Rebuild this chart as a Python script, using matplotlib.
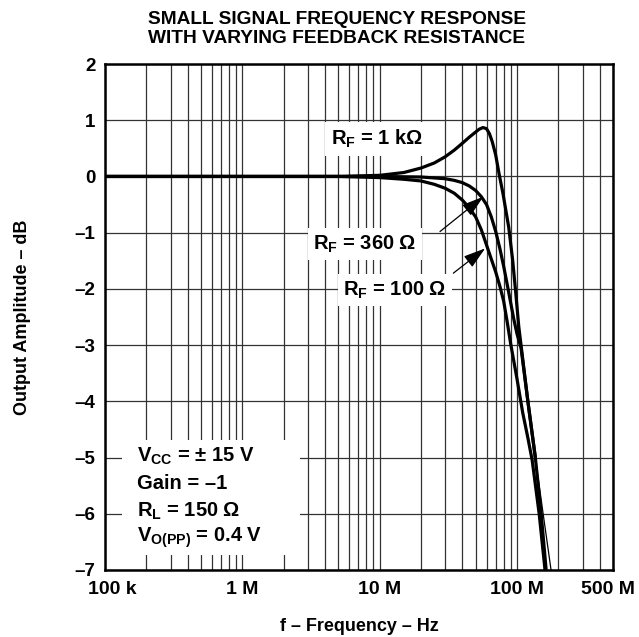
import matplotlib
matplotlib.use("Agg")
import matplotlib.pyplot as plt
from matplotlib.ticker import FixedLocator, NullFormatter, LogLocator
from matplotlib.patches import Rectangle
from matplotlib.transforms import ScaledTranslation

plt.rcParams['font.family'] = ['Liberation Sans', 'DejaVu Sans']
plt.rcParams['font.weight'] = 'bold'
plt.rcParams['mathtext.fontset'] = 'custom'
plt.rcParams['mathtext.rm'] = 'Liberation Sans:bold'
plt.rcParams['mathtext.bf'] = 'Liberation Sans:bold'
plt.rcParams['mathtext.it'] = 'Liberation Sans:bold'

# ---- data ----
f_100 = [1e5, 1e6, 5e6, 1e7, 1.5e7, 2e7, 2.5e7, 3e7, 3.5e7, 4e7, 4.5e7, 5e7,
         5.5e7, 6e7, 6.5e7, 7e7, 7.5e7, 8e7, 8.5e7, 9e7, 1e8, 1.1e8, 1.2e8,
         1.29e8, 1.45e8, 1.6e8]
db_100 = [0, 0, 0, -0.02, -0.05, -0.08, -0.14, -0.21, -0.3, -0.42, -0.56, -0.72,
          -0.95, -1.22, -1.47, -1.7, -1.95, -2.22, -2.6, -2.98, -3.6, -4.2, -4.65,
          -5.05, -6.0, -7.0]

f_360 = [1e5, 1e6, 1e7, 2e7, 3e7, 3.5e7, 4e7, 4.5e7, 5e7, 5.5e7, 6e7, 6.5e7,
         7e7, 7.5e7, 8e7, 8.5e7, 9e7, 9.5e7, 1e8, 1.07e8, 1.2e8, 1.36e8, 1.5e8,
         1.63e8]
db_360 = [0, 0, 0, -0.01, -0.04, -0.07, -0.11, -0.17, -0.25, -0.36, -0.5, -0.72,
          -0.98, -1.28, -1.6, -1.93, -2.25, -2.55, -2.8, -3.05, -4.0, -5.0, -6.0,
          -7.0]

f_1k = [1e5, 1e6, 5e6, 1e7, 1.5e7, 2e7, 2.5e7, 3e7, 3.5e7, 4e7, 4.5e7, 5e7,
        5.3e7, 5.65e7, 6e7, 6.3e7, 6.6e7, 7e7, 7.4e7, 7.9e7, 8.7e7, 9.3e7,
        9.8e7, 1.03e8, 1.07e8, 1.2e8, 1.36e8, 1.55e8, 1.77e8]
db_1k = [0, 0, 0, 0.02, 0.07, 0.15, 0.24, 0.35, 0.47, 0.59, 0.7, 0.79,
         0.84, 0.87, 0.85, 0.76, 0.62, 0.38, 0.05, -0.3, -0.9, -1.49,
         -2.08, -2.67, -3.0, -4.0, -5.0, -6.0, -7.0]

xtick_vals = [1e5, 1e6, 1e7, 1e8, 5e8]
xtick_labels = ['100 k', '1 M', '10 M', '100 M', '500 M']
ytick_vals = [2, 1, 0, -1, -2, -3, -4, -5, -6, -7]
ytick_labels = ['2', '1', '0', '–1', '–2', '–3', '–4', '–5', '–6', '–7']

cond_lines = [r'V$_{\mathrm{CC}}$ = ± 15 V', 'Gain = –1',
              r'R$_{\mathrm{L}}$ = 150 Ω', r'V$_{\mathrm{O(PP)}}$ = 0.4 V']

fig = plt.figure(figsize=(6.39, 6.37), dpi=100)
ax = fig.add_axes([0.1643, 0.1052, 0.7950, 0.7943])

lw = 2.3
ax.plot(f_100, db_100, color='black', lw=lw, solid_capstyle='butt',
        solid_joinstyle='round', zorder=5)
ax.plot(f_360, db_360, color='black', lw=lw, solid_capstyle='butt',
        solid_joinstyle='round', zorder=5)
ax.plot(f_1k, db_1k, color='black', lw=0.9, zorder=5)
thick_f = [f for f, d in zip(f_1k, db_1k) if d >= -5.0]
thick_d = [d for d in db_1k if d >= -5.0]
ax.plot(thick_f, thick_d, color='black', lw=lw, solid_capstyle='butt',
        solid_joinstyle='round', zorder=5)

ax.set_xscale('log')
ax.set_xlim(1e5, 5e8)
ax.set_ylim(-7, 2)
ax.xaxis.set_major_locator(FixedLocator(xtick_vals))
ax.set_xticklabels(xtick_labels)
ax.xaxis.set_minor_locator(LogLocator(base=10, subs=range(1, 10), numticks=50))
ax.xaxis.set_minor_formatter(NullFormatter())
ax.set_yticks(ytick_vals)
ax.set_yticklabels(ytick_labels)

ax.tick_params(axis='both', which='both', length=0)
ax.tick_params(axis='x', pad=8, labelsize=14)
ax.tick_params(axis='y', pad=7, labelsize=13.5)
for lab in ax.get_xticklabels() + ax.get_yticklabels():
    lab.set_fontweight('bold')
xl = ax.get_xticklabels()
xl[0].set_transform(xl[0].get_transform() + ScaledTranslation(0.07, 0, fig.dpi_scale_trans))
xl[-1].set_transform(xl[-1].get_transform() + ScaledTranslation(-0.05, 0, fig.dpi_scale_trans))

ax.grid(True, which='both', axis='x', color='#333333', lw=0.9)
ax.grid(True, which='major', axis='y', color='#333333', lw=0.9)
ax.set_axisbelow(True)
for s in ax.spines.values():
    s.set_linewidth(1.8)
    s.set_color('black')

ax.set_xlabel('f – Frequency – Hz', fontsize=13, fontweight='bold', labelpad=14)
ax.set_ylabel('Output Amplitude – dB', fontsize=13, fontweight='bold', labelpad=31)

fig.text(0.527, 0.982, 'SMALL SIGNAL FREQUENCY RESPONSE\nWITH VARYING FEEDBACK RESISTANCE',
         ha='center', va='top', fontsize=13.8, fontweight='bold', linespacing=1.15)

# curve labels
bb = dict(facecolor='white', edgecolor='none', pad=4)
ax.text(9.57e6, 0.67, r'R$_{\mathrm{F}}$ = 1 kΩ', ha='center', va='center',
        fontsize=14.5, fontweight='bold', bbox=bb, zorder=4)
ax.text(7.83e6, -1.2, r'R$_{\mathrm{F}}$ = 360 Ω', ha='center', va='center',
        fontsize=14.5, fontweight='bold', bbox=bb, zorder=4)
ax.text(1.29e7, -2.02, r'R$_{\mathrm{F}}$ = 100 Ω', ha='center', va='center',
        fontsize=14.5, fontweight='bold', bbox=bb, zorder=4)

ap = dict(arrowstyle='-|>,head_length=0.9,head_width=0.28', color='black',
          lw=0.9, mutation_scale=15, shrinkA=0, shrinkB=0)
ax.annotate('', xy=(5.69e7, -0.36), xytext=(2.75e7, -0.98), arrowprops=ap, zorder=6)
ax.annotate('', xy=(5.86e7, -1.28), xytext=(3.44e7, -1.72), arrowprops=ap, zorder=6)

# conditions block
ax.add_patch(Rectangle((0.033, 0.03), 0.351, 0.227, transform=ax.transAxes,
                       facecolor='white', edgecolor='none', zorder=3))
ys = [0.2144, 0.1591, 0.1057, 0.0563]
for yy, t in zip(ys, cond_lines):
    ax.text(0.063, yy, t, transform=ax.transAxes, ha='left', va='baseline',
            fontsize=14.5, fontweight='bold', zorder=4)

fig.savefig('out.png', dpi=100)
